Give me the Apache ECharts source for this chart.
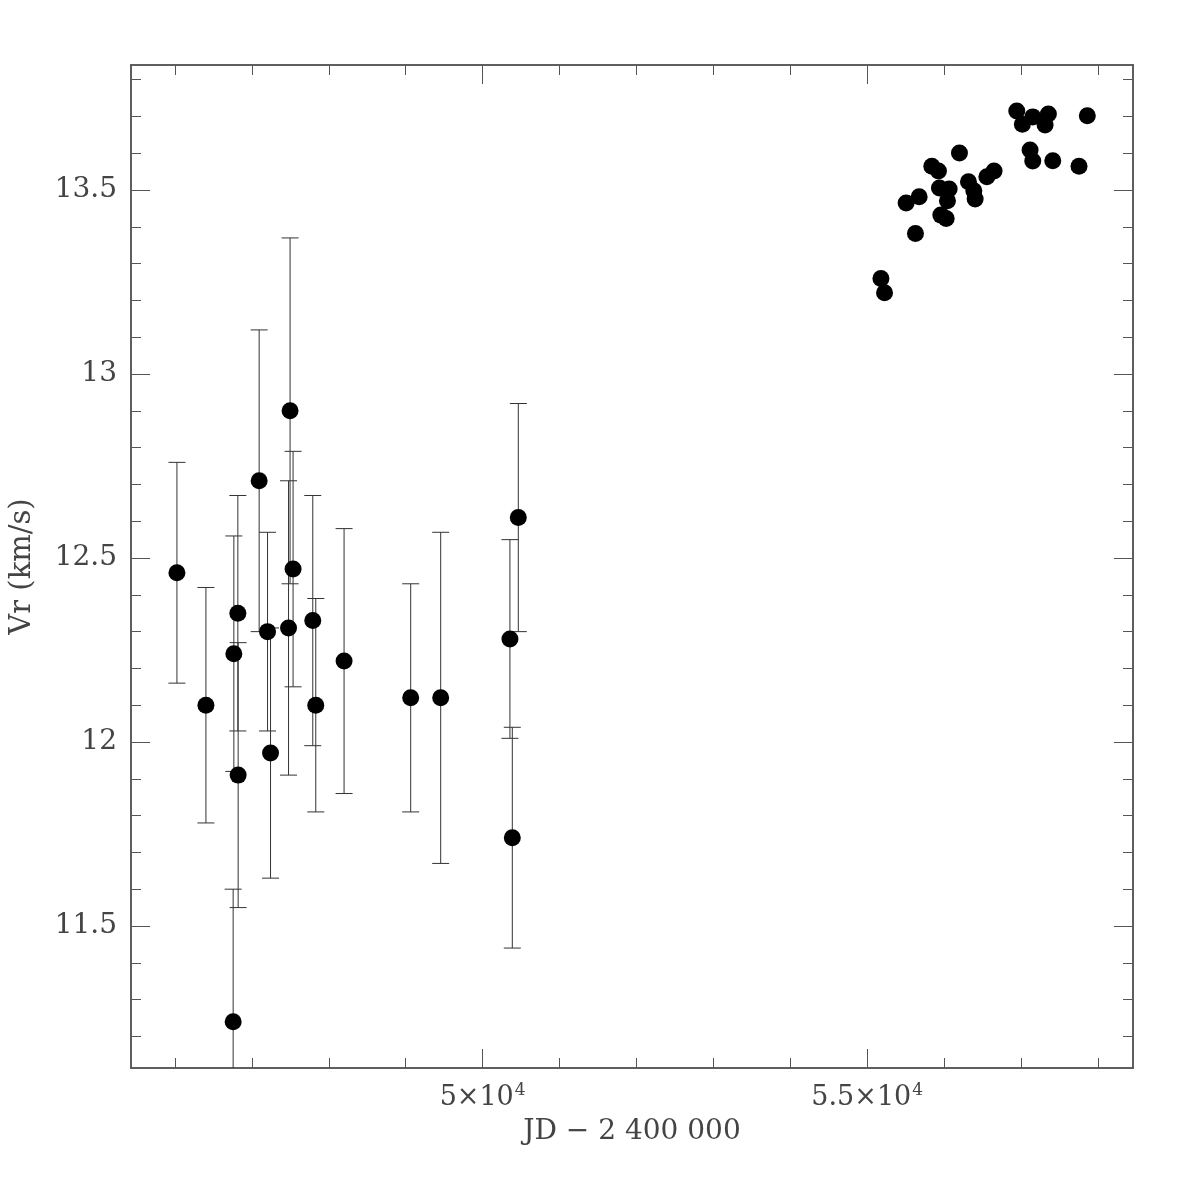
<!DOCTYPE html>
<html>
<head>
<meta charset="utf-8">
<script src="https://cdn.jsdelivr.net/npm/echarts@6/dist/echarts.min.js"></script>
<style>
  html, body { margin: 0; padding: 0; background: #fff; }
  #chart { width: 1196px; height: 1196px; }
</style>
</head>
<body>
<div id="chart"></div>
<script>
// old measurements with error bars: [JD-2400000, Vr, sigma]
var oldJd  = [46026, 46403, 46766, 46818, 46822, 46757, 47095, 47204, 47243, 47497,
              47477, 47536, 47792, 47831, 48199, 49065, 49455, 50355, 50386, 50464];
var oldVr  = [12.46, 12.10, 12.24, 12.35, 11.91, 11.24, 12.71, 12.30, 11.97, 12.90,
              12.31, 12.47, 12.33, 12.10, 12.22, 12.12, 12.12, 12.28, 11.74, 12.61];
var oldErr = [0.30, 0.32, 0.32, 0.32, 0.36, 0.36, 0.41, 0.27, 0.34, 0.47,
              0.40, 0.32, 0.34, 0.29, 0.36, 0.31, 0.45, 0.27, 0.30, 0.31];

// new measurements (no error bars drawn)
var newJd = [55178, 55225, 55506, 55675, 55627, 55840, 55926, 55939, 56065, 56043,
             55957, 56026, 56199, 56316, 56386, 56403, 56555, 56649, 56944, 57017,
             57152, 57355, 57312, 57117, 57152, 57412, 57861, 57753];
var newVr = [13.260, 13.221, 13.465, 13.482, 13.382, 13.565, 13.552, 13.506, 13.503, 13.471,
             13.432, 13.423, 13.601, 13.523, 13.498, 13.476, 13.536, 13.552, 13.715, 13.679,
             13.699, 13.707, 13.677, 13.609, 13.579, 13.580, 13.702, 13.565];

var xMajor = [50000, 55000];
var xMinor = [46000, 47000, 48000, 49000, 51000, 52000, 53000, 54000, 56000, 57000, 58000];
var yMajor = [11.5, 12, 12.5, 13, 13.5];
var yMinor = [11.2, 11.3, 11.4, 11.6, 11.7, 11.8, 11.9, 12.1, 12.2, 12.3, 12.4,
              12.6, 12.7, 12.8, 12.9, 13.1, 13.2, 13.3, 13.4, 13.6, 13.7, 13.8];
var xLabels = {50000: '{b|5×10}{s|4}', 55000: '{b|5.5×10}{s|4}'};

var xMin = 45429, xMax = 58455, yMin = 11.114, yMax = 13.840;

var points = [], bars = [];
for (var i = 0; i < oldJd.length; i++) {
  points.push([oldJd[i], oldVr[i]]);
  bars.push([oldJd[i], oldVr[i] - oldErr[i], oldVr[i] + oldErr[i]]);
}
for (var j = 0; j < newJd.length; j++) {
  points.push([newJd[j], newVr[j]]);
}

var lineCol = '#555';
var txtCol = '#444';
var font = 'DejaVu Serif';

function xAx(pos, ticks, len, labels) {
  return {
    type: 'value', position: pos, min: xMin, max: xMax,
    axisLine: { show: true, lineStyle: { color: lineCol, width: 1.5 } },
    axisTick: { show: true, inside: true, length: len, customValues: ticks,
                lineStyle: { color: lineCol, width: 1 } },
    axisLabel: labels ? {
      show: true, customValues: xMajor, margin: 14,
      formatter: function (v) { return xLabels[v] || ''; },
      rich: {
        b: { fontFamily: font, fontSize: 27, color: txtCol },
        s: { fontFamily: font, fontSize: 17, color: txtCol, padding: [0, 0, 15, 1] }
      }
    } : { show: false },
    splitLine: { show: false },
    name: labels ? 'JD − 2 400 000' : '',
    nameLocation: 'middle', nameGap: 50,
    nameTextStyle: { fontFamily: font, fontSize: 28, color: txtCol }
  };
}
function yAx(pos, ticks, len, labels) {
  return {
    type: 'value', position: pos, min: yMin, max: yMax,
    axisLine: { show: true, lineStyle: { color: lineCol, width: 1.5 } },
    axisTick: { show: true, inside: true, length: len, customValues: ticks,
                lineStyle: { color: lineCol, width: 1 } },
    axisLabel: labels ? {
      show: true, customValues: yMajor, margin: 14,
      fontFamily: font, fontSize: 28, color: txtCol
    } : { show: false },
    splitLine: { show: false },
    name: labels ? 'Vr (km/s)' : '',
    nameLocation: 'middle', nameGap: 94,
    nameTextStyle: { fontFamily: font, fontSize: 29, color: txtCol }
  };
}

var chart = echarts.init(document.getElementById('chart'));
chart.setOption({
  backgroundColor: '#fff',
  animation: false,
  grid: { left: 130, right: 63, top: 65, bottom: 128 },
  xAxis: [
    xAx('bottom', xMajor, 19, true),
    xAx('bottom', xMinor, 10, false),
    xAx('top', xMajor, 19, false),
    xAx('top', xMinor, 10, false)
  ],
  yAxis: [
    yAx('left', yMajor, 19, true),
    yAx('left', yMinor, 10, false),
    yAx('right', yMajor, 19, false),
    yAx('right', yMinor, 10, false)
  ],
  series: [
    {
      type: 'custom',
      xAxisIndex: 0, yAxisIndex: 0,
      clip: true,
      data: bars,
      renderItem: function (params, api) {
        var x = api.value(0);
        var lo = api.coord([x, api.value(1)]);
        var hi = api.coord([x, api.value(2)]);
        var w = 8.5;
        var st = { stroke: '#333', lineWidth: 1 };
        return {
          type: 'group',
          children: [
            { type: 'line', shape: { x1: lo[0], y1: lo[1], x2: hi[0], y2: hi[1] }, style: st },
            { type: 'line', shape: { x1: lo[0] - w, y1: lo[1], x2: lo[0] + w, y2: lo[1] }, style: st },
            { type: 'line', shape: { x1: hi[0] - w, y1: hi[1], x2: hi[0] + w, y2: hi[1] }, style: st }
          ]
        };
      }
    },
    {
      type: 'scatter',
      xAxisIndex: 0, yAxisIndex: 0,
      symbol: 'circle', symbolSize: 17,
      itemStyle: { color: '#000', opacity: 1 },
      data: points
    }
  ]
});
</script>
</body>
</html>
